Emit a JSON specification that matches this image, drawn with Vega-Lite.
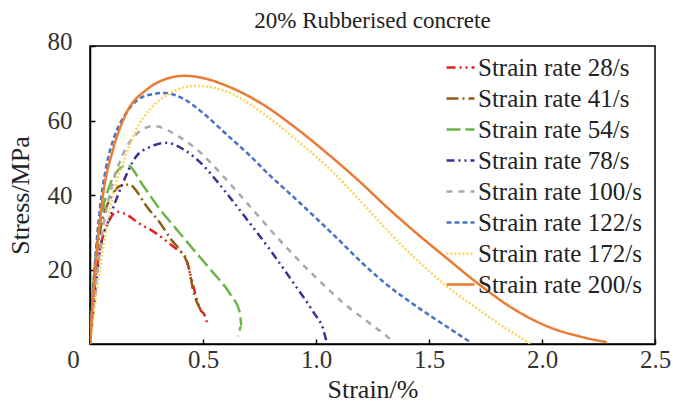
{
  "$schema": "https://vega.github.io/schema/vega-lite/v6.json",
  "width": 565,
  "height": 298,
  "autosize": "none",
  "padding": {"left": 90, "top": 46, "right": 18, "bottom": 67},
  "background": "white",
  "title": {
    "text": "20% Rubberised concrete",
    "font": "Liberation Serif",
    "fontSize": 23,
    "fontWeight": "normal",
    "color": "#222",
    "anchor": "middle",
    "frame": "group",
    "offset": -4
  },
  "config": {
    "view": {"stroke": "#000", "strokeWidth": 1.5},
    "axis": {
      "labelFont": "Liberation Serif",
      "titleFont": "Liberation Serif",
      "labelColor": "#333",
      "titleColor": "#222",
      "titleFontWeight": "normal",
      "domainColor": "#000",
      "domainWidth": 1.5,
      "tickColor": "#000",
      "tickWidth": 1.5,
      "grid": false
    }
  },
  "data": {
    "values": [
      {"r": "Strain rate 28/s", "i": 0, "x": 0, "y": 0},
      {"r": "Strain rate 28/s", "i": 1, "x": 0.02, "y": 15},
      {"r": "Strain rate 28/s", "i": 2, "x": 0.05, "y": 27},
      {"r": "Strain rate 28/s", "i": 3, "x": 0.08, "y": 32.5},
      {"r": "Strain rate 28/s", "i": 4, "x": 0.12, "y": 35.5},
      {"r": "Strain rate 28/s", "i": 5, "x": 0.16, "y": 34.8},
      {"r": "Strain rate 28/s", "i": 6, "x": 0.214, "y": 32.5},
      {"r": "Strain rate 28/s", "i": 7, "x": 0.288, "y": 29.9},
      {"r": "Strain rate 28/s", "i": 8, "x": 0.347, "y": 27.2},
      {"r": "Strain rate 28/s", "i": 9, "x": 0.384, "y": 25.4},
      {"r": "Strain rate 28/s", "i": 10, "x": 0.42, "y": 23.6},
      {"r": "Strain rate 28/s", "i": 11, "x": 0.45, "y": 17.3},
      {"r": "Strain rate 28/s", "i": 12, "x": 0.465, "y": 13.7},
      {"r": "Strain rate 28/s", "i": 13, "x": 0.487, "y": 9.3},
      {"r": "Strain rate 28/s", "i": 14, "x": 0.509, "y": 7.5},
      {"r": "Strain rate 28/s", "i": 15, "x": 0.52, "y": 5},

      {"r": "Strain rate 41/s", "i": 0, "x": 0, "y": 0},
      {"r": "Strain rate 41/s", "i": 1, "x": 0.02, "y": 18},
      {"r": "Strain rate 41/s", "i": 2, "x": 0.05, "y": 32},
      {"r": "Strain rate 41/s", "i": 3, "x": 0.09, "y": 39},
      {"r": "Strain rate 41/s", "i": 4, "x": 0.133, "y": 42.4},
      {"r": "Strain rate 41/s", "i": 5, "x": 0.177, "y": 42.8},
      {"r": "Strain rate 41/s", "i": 6, "x": 0.2, "y": 41.5},
      {"r": "Strain rate 41/s", "i": 7, "x": 0.25, "y": 37},
      {"r": "Strain rate 41/s", "i": 8, "x": 0.31, "y": 32.5},
      {"r": "Strain rate 41/s", "i": 9, "x": 0.36, "y": 28},
      {"r": "Strain rate 41/s", "i": 10, "x": 0.4, "y": 25},
      {"r": "Strain rate 41/s", "i": 11, "x": 0.435, "y": 20.9},
      {"r": "Strain rate 41/s", "i": 12, "x": 0.46, "y": 13.5},
      {"r": "Strain rate 41/s", "i": 13, "x": 0.487, "y": 9.5},
      {"r": "Strain rate 41/s", "i": 14, "x": 0.516, "y": 7.5},

      {"r": "Strain rate 54/s", "i": 0, "x": 0, "y": 0},
      {"r": "Strain rate 54/s", "i": 1, "x": 0.02, "y": 20},
      {"r": "Strain rate 54/s", "i": 2, "x": 0.05, "y": 34},
      {"r": "Strain rate 54/s", "i": 3, "x": 0.09, "y": 43},
      {"r": "Strain rate 54/s", "i": 4, "x": 0.13, "y": 47},
      {"r": "Strain rate 54/s", "i": 5, "x": 0.165, "y": 48},
      {"r": "Strain rate 54/s", "i": 6, "x": 0.236, "y": 42.4},
      {"r": "Strain rate 54/s", "i": 7, "x": 0.31, "y": 36.1},
      {"r": "Strain rate 54/s", "i": 8, "x": 0.384, "y": 30.7},
      {"r": "Strain rate 54/s", "i": 9, "x": 0.457, "y": 25.4},
      {"r": "Strain rate 54/s", "i": 10, "x": 0.54, "y": 19.5},
      {"r": "Strain rate 54/s", "i": 11, "x": 0.619, "y": 13.5},
      {"r": "Strain rate 54/s", "i": 12, "x": 0.664, "y": 8.2},
      {"r": "Strain rate 54/s", "i": 13, "x": 0.67, "y": 4.8},
      {"r": "Strain rate 54/s", "i": 14, "x": 0.656, "y": 2.1},

      {"r": "Strain rate 78/s", "i": 0, "x": 0, "y": 0},
      {"r": "Strain rate 78/s", "i": 1, "x": 0.02, "y": 12},
      {"r": "Strain rate 78/s", "i": 2, "x": 0.044, "y": 25},
      {"r": "Strain rate 78/s", "i": 3, "x": 0.088, "y": 34},
      {"r": "Strain rate 78/s", "i": 4, "x": 0.14, "y": 42.4},
      {"r": "Strain rate 78/s", "i": 5, "x": 0.2, "y": 50},
      {"r": "Strain rate 78/s", "i": 6, "x": 0.27, "y": 53},
      {"r": "Strain rate 78/s", "i": 7, "x": 0.34, "y": 54},
      {"r": "Strain rate 78/s", "i": 8, "x": 0.42, "y": 52},
      {"r": "Strain rate 78/s", "i": 9, "x": 0.49, "y": 48.6},
      {"r": "Strain rate 78/s", "i": 10, "x": 0.6, "y": 40.8},
      {"r": "Strain rate 78/s", "i": 11, "x": 0.7, "y": 33},
      {"r": "Strain rate 78/s", "i": 12, "x": 0.8, "y": 25},
      {"r": "Strain rate 78/s", "i": 13, "x": 0.9, "y": 16.4},
      {"r": "Strain rate 78/s", "i": 14, "x": 0.99, "y": 8.4},
      {"r": "Strain rate 78/s", "i": 15, "x": 1.032, "y": 3.9},
      {"r": "Strain rate 78/s", "i": 16, "x": 1.045, "y": 1},

      {"r": "Strain rate 100/s", "i": 0, "x": 0, "y": 0},
      {"r": "Strain rate 100/s", "i": 1, "x": 0.03, "y": 18},
      {"r": "Strain rate 100/s", "i": 2, "x": 0.06, "y": 32},
      {"r": "Strain rate 100/s", "i": 3, "x": 0.1, "y": 43},
      {"r": "Strain rate 100/s", "i": 4, "x": 0.15, "y": 51.5},
      {"r": "Strain rate 100/s", "i": 5, "x": 0.2, "y": 56},
      {"r": "Strain rate 100/s", "i": 6, "x": 0.28, "y": 58.5},
      {"r": "Strain rate 100/s", "i": 7, "x": 0.4, "y": 55.4},
      {"r": "Strain rate 100/s", "i": 8, "x": 0.49, "y": 51.3},
      {"r": "Strain rate 100/s", "i": 9, "x": 0.575, "y": 46},
      {"r": "Strain rate 100/s", "i": 10, "x": 0.7, "y": 37.5},
      {"r": "Strain rate 100/s", "i": 11, "x": 0.83, "y": 28.5},
      {"r": "Strain rate 100/s", "i": 12, "x": 0.98, "y": 19},
      {"r": "Strain rate 100/s", "i": 13, "x": 1.13, "y": 10.6},
      {"r": "Strain rate 100/s", "i": 14, "x": 1.254, "y": 4.8},
      {"r": "Strain rate 100/s", "i": 15, "x": 1.313, "y": 2.1},
      {"r": "Strain rate 100/s", "i": 16, "x": 1.34, "y": 0.5},

      {"r": "Strain rate 122/s", "i": 0, "x": 0, "y": 0},
      {"r": "Strain rate 122/s", "i": 1, "x": 0.02, "y": 20},
      {"r": "Strain rate 122/s", "i": 2, "x": 0.045, "y": 37},
      {"r": "Strain rate 122/s", "i": 3, "x": 0.07, "y": 47},
      {"r": "Strain rate 122/s", "i": 4, "x": 0.11, "y": 56},
      {"r": "Strain rate 122/s", "i": 5, "x": 0.155, "y": 61.5},
      {"r": "Strain rate 122/s", "i": 6, "x": 0.21, "y": 65.5},
      {"r": "Strain rate 122/s", "i": 7, "x": 0.27, "y": 67},
      {"r": "Strain rate 122/s", "i": 8, "x": 0.33, "y": 67.4},
      {"r": "Strain rate 122/s", "i": 9, "x": 0.42, "y": 65.6},
      {"r": "Strain rate 122/s", "i": 10, "x": 0.5, "y": 62},
      {"r": "Strain rate 122/s", "i": 11, "x": 0.6, "y": 56.5},
      {"r": "Strain rate 122/s", "i": 12, "x": 0.7, "y": 51},
      {"r": "Strain rate 122/s", "i": 13, "x": 0.8, "y": 45},
      {"r": "Strain rate 122/s", "i": 14, "x": 0.9, "y": 39.5},
      {"r": "Strain rate 122/s", "i": 15, "x": 1.0, "y": 33.8},
      {"r": "Strain rate 122/s", "i": 16, "x": 1.1, "y": 28},
      {"r": "Strain rate 122/s", "i": 17, "x": 1.2, "y": 22},
      {"r": "Strain rate 122/s", "i": 18, "x": 1.3, "y": 16.6},
      {"r": "Strain rate 122/s", "i": 19, "x": 1.4, "y": 12},
      {"r": "Strain rate 122/s", "i": 20, "x": 1.5, "y": 7.8},
      {"r": "Strain rate 122/s", "i": 21, "x": 1.6, "y": 3.8},
      {"r": "Strain rate 122/s", "i": 22, "x": 1.68, "y": 0.6},

      {"r": "Strain rate 172/s", "i": 0, "x": 0, "y": 0},
      {"r": "Strain rate 172/s", "i": 1, "x": 0.03, "y": 14},
      {"r": "Strain rate 172/s", "i": 2, "x": 0.07, "y": 30},
      {"r": "Strain rate 172/s", "i": 3, "x": 0.11, "y": 42},
      {"r": "Strain rate 172/s", "i": 4, "x": 0.155, "y": 50},
      {"r": "Strain rate 172/s", "i": 5, "x": 0.2, "y": 57},
      {"r": "Strain rate 172/s", "i": 6, "x": 0.273, "y": 63.5},
      {"r": "Strain rate 172/s", "i": 7, "x": 0.36, "y": 67.5},
      {"r": "Strain rate 172/s", "i": 8, "x": 0.465, "y": 69.3},
      {"r": "Strain rate 172/s", "i": 9, "x": 0.53, "y": 69},
      {"r": "Strain rate 172/s", "i": 10, "x": 0.633, "y": 67},
      {"r": "Strain rate 172/s", "i": 11, "x": 0.782, "y": 61.2},
      {"r": "Strain rate 172/s", "i": 12, "x": 0.929, "y": 54},
      {"r": "Strain rate 172/s", "i": 13, "x": 1.077, "y": 46},
      {"r": "Strain rate 172/s", "i": 14, "x": 1.195, "y": 38.5},
      {"r": "Strain rate 172/s", "i": 15, "x": 1.3, "y": 31.5},
      {"r": "Strain rate 172/s", "i": 16, "x": 1.43, "y": 23.5},
      {"r": "Strain rate 172/s", "i": 17, "x": 1.578, "y": 15.5},
      {"r": "Strain rate 172/s", "i": 18, "x": 1.726, "y": 9},
      {"r": "Strain rate 172/s", "i": 19, "x": 1.844, "y": 4},
      {"r": "Strain rate 172/s", "i": 20, "x": 1.917, "y": 1.3},
      {"r": "Strain rate 172/s", "i": 21, "x": 1.95, "y": 0},

      {"r": "Strain rate 200/s", "i": 0, "x": 0, "y": 0},
      {"r": "Strain rate 200/s", "i": 1, "x": 0.015, "y": 13.7},
      {"r": "Strain rate 200/s", "i": 2, "x": 0.035, "y": 28},
      {"r": "Strain rate 200/s", "i": 3, "x": 0.059, "y": 40.6},
      {"r": "Strain rate 200/s", "i": 4, "x": 0.102, "y": 52.2},
      {"r": "Strain rate 200/s", "i": 5, "x": 0.162, "y": 62.1},
      {"r": "Strain rate 200/s", "i": 6, "x": 0.251, "y": 68.3},
      {"r": "Strain rate 200/s", "i": 7, "x": 0.339, "y": 71.2},
      {"r": "Strain rate 200/s", "i": 8, "x": 0.42, "y": 72},
      {"r": "Strain rate 200/s", "i": 9, "x": 0.5, "y": 71.4},
      {"r": "Strain rate 200/s", "i": 10, "x": 0.605, "y": 69.3},
      {"r": "Strain rate 200/s", "i": 11, "x": 0.752, "y": 64.8},
      {"r": "Strain rate 200/s", "i": 12, "x": 0.9, "y": 58.5},
      {"r": "Strain rate 200/s", "i": 13, "x": 1.047, "y": 51.3},
      {"r": "Strain rate 200/s", "i": 14, "x": 1.195, "y": 43.5},
      {"r": "Strain rate 200/s", "i": 15, "x": 1.3, "y": 37.5},
      {"r": "Strain rate 200/s", "i": 16, "x": 1.43, "y": 30.5},
      {"r": "Strain rate 200/s", "i": 17, "x": 1.579, "y": 23},
      {"r": "Strain rate 200/s", "i": 18, "x": 1.726, "y": 15.8},
      {"r": "Strain rate 200/s", "i": 19, "x": 1.872, "y": 9.5},
      {"r": "Strain rate 200/s", "i": 20, "x": 2.021, "y": 4.8},
      {"r": "Strain rate 200/s", "i": 21, "x": 2.168, "y": 2},
      {"r": "Strain rate 200/s", "i": 22, "x": 2.286, "y": 0.5}
    ]
  },
  "mark": {"type": "line", "strokeWidth": 2.5, "interpolate": "monotone", "clip": true},
  "encoding": {
    "x": {
      "field": "x",
      "type": "quantitative",
      "title": "Strain/%",
      "scale": {"domain": [0, 2.5], "nice": false, "zero": false},
      "axis": {
        "values": [0, 0.5, 1, 1.5, 2, 2.5],
        "labelExpr": "datum.value == 0 ? '0' : format(datum.value, '.1f')",
        "labelFontSize": 25,
        "labelPadding": 8,
        "tickSize": -5,
        "labelOffset": {"condition": {"test": "datum.value == 0", "value": -17}, "value": 0},
        "labelFlush": false,
        "titleFontSize": 26,
        "titlePadding": 4
      }
    },
    "y": {
      "field": "y",
      "type": "quantitative",
      "title": "Stress/MPa",
      "scale": {"domain": [0, 80], "nice": false},
      "axis": {
        "values": [20, 40, 60, 80],
        "labelFontSize": 25,
        "labelPadding": 23,
        "tickSize": -5,
        "labelOffset": {"condition": {"test": "datum.value == 80", "value": -5}, "value": 0},
        "labelFlush": false,
        "titleFontSize": 26,
        "titlePadding": 14
      }
    },
    "order": {"field": "i", "type": "quantitative"},
    "color": {
      "field": "r",
      "type": "nominal",
      "scale": {
        "domain": ["Strain rate 28/s", "Strain rate 41/s", "Strain rate 54/s", "Strain rate 78/s", "Strain rate 100/s", "Strain rate 122/s", "Strain rate 172/s", "Strain rate 200/s"],
        "range": ["#e8201c", "#8f5f14", "#6cb545", "#3c2f96", "#a8a8a8", "#4a72c4", "#f8d65e", "#ea7b35"]
      },
      "legend": {
        "title": null,
        "orient": "none",
        "legendX": 355,
        "legendY": 6,
        "symbolType": "stroke",
        "symbolSize": 784,
        "symbolStrokeWidth": 2.5,
        "labelFont": "Liberation Serif",
        "labelFontSize": 25,
        "labelColor": "#222",
        "labelOffset": 2,
        "rowPadding": 2,
        "padding": 0,
        "labelLimit": 300
      }
    },
    "strokeDash": {
      "field": "r",
      "type": "nominal",
      "scale": {
        "domain": ["Strain rate 28/s", "Strain rate 41/s", "Strain rate 54/s", "Strain rate 78/s", "Strain rate 100/s", "Strain rate 122/s", "Strain rate 172/s", "Strain rate 200/s"],
        "range": [[9, 4, 2, 4, 2, 4], [12, 4, 2, 4], [14, 5], [8, 4, 2, 4, 2, 4], [6, 6], [5, 3], [2, 2], [1, 0]]
      },
      "legend": {
        "title": null,
        "orient": "none",
        "legendX": 355,
        "legendY": 6
      }
    }
  }
}
